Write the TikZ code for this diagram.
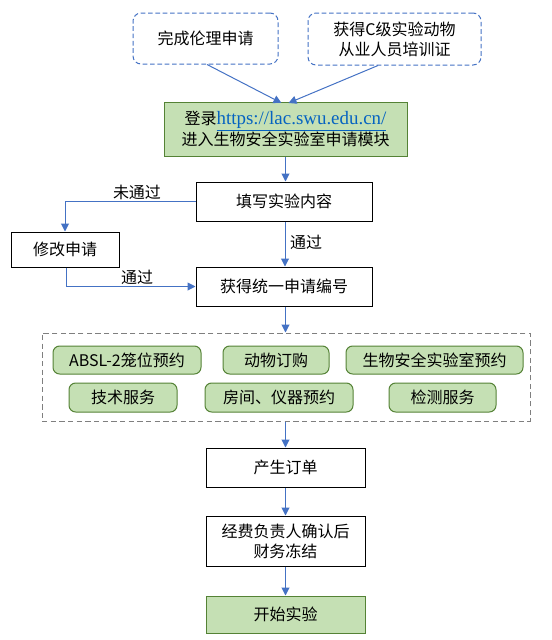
\documentclass[tikz,border=0pt]{standalone}
\usepackage{fontspec}
\setmainfont{Noto Sans CJK SC}
\newfontfamily\urlfont{Liberation Serif}
\usetikzlibrary{arrows.meta,positioning}
\definecolor{arrblue}{HTML}{4472C4}
\definecolor{dashblue}{HTML}{4472C4}
\definecolor{gfill}{HTML}{C5E0B4}
\definecolor{gdraw}{HTML}{548235}
\definecolor{urlblue}{HTML}{0563C1}
\definecolor{cgray}{HTML}{7F7F7F}
\begin{document}
\begin{tikzpicture}[x=0.75pt,y=-0.75pt,
  mw/.style={minimum width=#1*0.75pt},
  mh/.style={minimum height=#1*0.75pt},
  every node/.style={inner sep=0pt,font=\fontsize{12}{15}\selectfont,align=center},
  plainbox/.style={draw=black,line width=0.75pt},
  dashbox/.style={draw=dashblue,dashed,dash pattern=on 3.5pt off 2pt,line width=0.75pt,rounded corners=6pt},
  greenbox/.style={draw=gdraw,fill=gfill,line width=0.75pt},
  greenround/.style={draw=gdraw,fill=gfill,line width=0.75pt,rounded corners=5pt},
  container/.style={draw=cgray,dashed,dash pattern=on 4pt off 2.5pt,line width=0.75pt},
  arr/.style={draw=arrblue,line width=0.75pt,-{Triangle[length=6pt,width=6pt]}},
  lbl/.style={fill=none}
]
\useasboundingbox (0,0) rectangle (551,640);

\node[dashbox,mw=145,mh=51] (A) at (205.5,38.5) {完成伦理申请};
\node[dashbox,mw=173,mh=52] (B) at (394.5,39) {获得C级实验动物\\从业人员培训证};
\node[greenbox,mw=243,mh=54] (C) at (285.5,129) {登录{\urlfont\fontsize{14.2}{15}\selectfont\textcolor{urlblue}{\underline{https://lac.swu.edu.cn/}}}\\进入生物安全实验室申请模块};
\node[plainbox,mw=176,mh=39] (D) at (284,201.5) {填写实验内容};
\node[plainbox,mw=108,mh=35] (E) at (65,249.5) {修改申请};
\node[plainbox,mw=176,mh=39] (F) at (284,286.5) {获得统一申请编号};

\node[container,mw=488,mh=88] (K) at (286,377) {};
\node[greenround,mw=148,mh=28] (K1) at (127,360) {ABSL-2笼位预约};
\node[greenround,mw=106,mh=28] (K2) at (276,360) {动物订购};
\node[greenround,mw=177,mh=28] (K3) at (434.5,360) {生物安全实验室预约};
\node[greenround,mw=108,mh=29] (K4) at (123,397.5) {技术服务};
\node[greenround,mw=148,mh=29] (K5) at (279,397.5) {房间、仪器预约};
\node[greenround,mw=107,mh=29] (K6) at (442.5,397.5) {检测服务};

\node[plainbox,mw=159,mh=39] (G) at (285.5,467.5) {产生订单};
\node[plainbox,mw=159,mh=50] (H) at (285.5,541) {经费负责人确认后\\财务冻结};
\node[greenbox,mw=159,mh=37] (I) at (285.5,614.5) {开始实验};

\draw[arr] ([xshift=1.5*0.75pt]A.south) -- ([xshift=-4*0.75pt,yshift=-1.5*0.75pt]C.north);
\draw[arr] ([xshift=-16.5*0.75pt]B.south) -- ([xshift=3*0.75pt,yshift=-1.5*0.75pt]C.north);
\draw[arr] (C.south) -- (C.south |- D.north);
\draw[arr] (D.west) -| (E.north);
\node[lbl] (L1) at (137,192) {未通过};
\draw[arr] ([xshift=1*0.75pt]D.south) -- ([xshift=1*0.75pt]F.north);
\node[lbl] (L2) at (306,242) {通过};
\draw[arr] ([xshift=1*0.75pt]E.south) |- (F.west);
\node[lbl] (L3) at (137,277) {通过};
\draw[arr] ([xshift=1.5*0.75pt]F.south) -- ([xshift=1.5*0.75pt]F.south |- K.north);
\draw[arr] (K.south -| G.north) -- (G.north);
\draw[arr] (G.south) -- (H.north);
\draw[arr] (H.south) -- (I.north);
\end{tikzpicture}
\end{document}
